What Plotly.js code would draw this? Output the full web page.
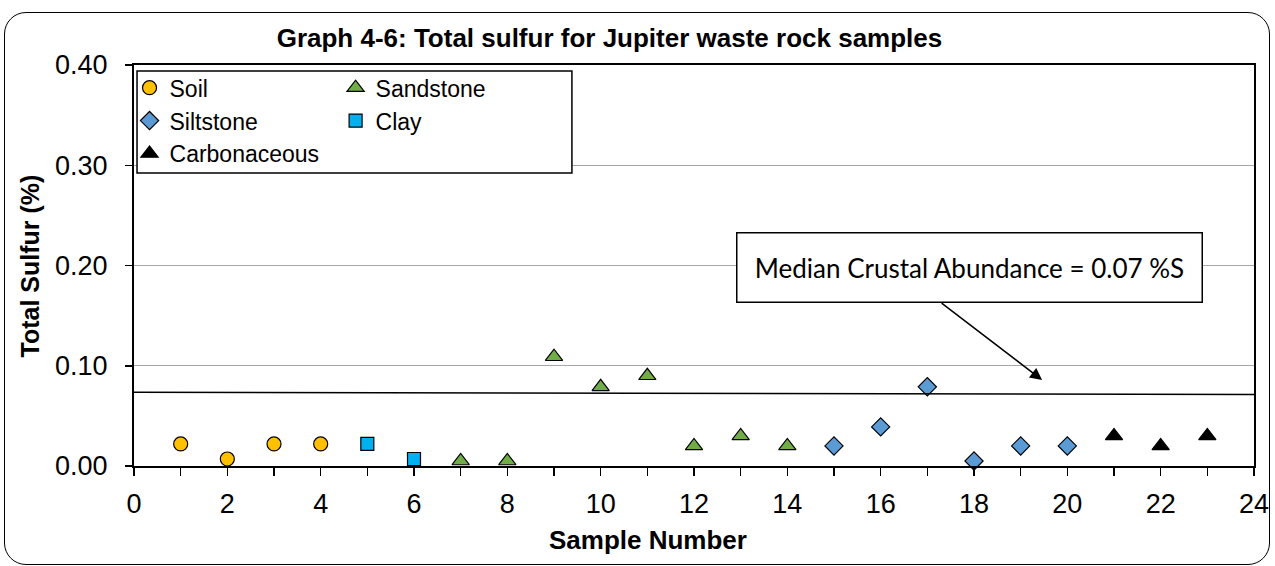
<!DOCTYPE html>
<html>
<head>
<meta charset="utf-8">
<script src="https://cdn.plot.ly/plotly-3.0.1.min.js"></script>
<style>
  body { margin: 0; background: #fff; }
  #chart { width: 1275px; height: 566px; }
  #frame {
    position: absolute; left: 4px; top: 12px; width: 1264px; height: 551px;
    border: 1.5px solid #000; border-radius: 22px; pointer-events: none;
  }
</style>
</head>
<body>
<div id="chart"></div>
<div id="frame"></div>
<script>
// sample numbers and total sulfur (%) per rock type
const soilX = [1, 2, 3, 4];
const soilY = [0.022, 0.007, 0.022, 0.022];
const sandstoneX = [7, 8, 9, 10, 11, 12, 13, 14];
const sandstoneY = [0.005, 0.005, 0.109, 0.079, 0.090, 0.020, 0.030, 0.020];
const siltstoneX = [15, 16, 17, 18, 19, 20];
const siltstoneY = [0.020, 0.039, 0.079, 0.005, 0.020, 0.020];
const clayX = [5, 6];
const clayY = [0.022, 0.007];
const carbX = [21, 22, 23];
const carbY = [0.030, 0.020, 0.030];

// median crustal abundance reference line (as drawn, slightly tilted)
const medianX = [0, 24];
const medianY = [0.0735, 0.0713];

const yTicks = [0, 0.1, 0.2, 0.3, 0.4];

const font = "Arial, 'Liberation Sans', sans-serif";

const series = (name, x, y, symbol, color, size, legend) => ({
  type: "scatter",
  mode: "markers",
  name: name,
  x: x,
  y: y,
  legend: legend,
  legendgroup: name,
  marker: {symbol: symbol, color: color, size: size, line: {color: "#000", width: 1.2}},
  cliponaxis: false
});

const data = [
  series("Soil", soilX, soilY, "circle", "#FFC000", 14, "legend"),
  series("Siltstone", siltstoneX, siltstoneY, "diamond", "#5B9BD5", 14, "legend"),
  series("Carbonaceous", carbX, carbY, "triangle-up", "#000000", 15, "legend"),
  series("Sandstone", sandstoneX, sandstoneY, "triangle-up", "#70AD47", 15, "legend2"),
  series("Clay", clayX, clayY, "square", "#00B0F0", 13, "legend2")
];

const legendStyle = (x) => ({
  x: x, y: 0.997, xanchor: "left", yanchor: "top",
  bgcolor: "rgba(0,0,0,0)", borderwidth: 0,
  font: {family: font, size: 23, color: "#000"},
  tracegroupgap: 0, itemwidth: 30
});

const layout = {
  width: 1275,
  height: 566,
  paper_bgcolor: "rgba(0,0,0,0)",
  plot_bgcolor: "#fff",
  margin: {l: 134, r: 21, t: 65, b: 100},
  title: {
    text: "<b>Graph 4-6: Total sulfur for Jupiter waste rock samples</b>",
    font: {family: font, size: 26, color: "#000"},
    xref: "container", yref: "container",
    x: 0.478, y: 0.933, xanchor: "center", yanchor: "middle"
  },
  xaxis: {
    range: [0, 24],
    dtick: 2,
    ticks: "outside", ticklen: 8, tickwidth: 1.5, tickcolor: "#000",
    minor: {dtick: 1, ticks: "outside", ticklen: 8, tickwidth: 1.5, tickcolor: "#000"},
    showgrid: false, zeroline: false,
    showline: true, linewidth: 2, linecolor: "#000", mirror: true,
    tickfont: {family: font, size: 27, color: "#000"},
    ticklabelstandoff: 5
  },
  yaxis: {
    range: [0, 0.4],
    tickvals: yTicks,
    tickformat: ".2f",
    ticks: "outside", ticklen: 7, tickwidth: 1.5, tickcolor: "#000",
    showgrid: true, gridcolor: "#A6A6A6", gridwidth: 1.2,
    zeroline: false,
    showline: true, linewidth: 2, linecolor: "#000", mirror: true,
    tickfont: {family: font, size: 27, color: "#000"},
    ticklabelstandoff: 12
  },
  showlegend: true,
  legend: legendStyle(-0.004),
  legend2: legendStyle(0.18),
  shapes: [
    {
      type: "rect", xref: "paper", yref: "paper", layer: "above",
      x0: 0.0027, x1: 0.391, y0: 0.7307, y1: 0.985,
      fillcolor: "#fff", line: {color: "#000", width: 1.5}
    },
    {
      type: "line", xref: "x", yref: "y", layer: "above",
      x0: medianX[0], y0: medianY[0], x1: medianX[1], y1: medianY[1],
      line: {color: "#000", width: 1.5}
    }
  ],
  annotations: [
    {
      text: "<b>Sample Number</b>", xref: "paper", yref: "paper",
      x: 0.459, y: -0.1845, xanchor: "center", yanchor: "middle",
      showarrow: false, font: {family: font, size: 26, color: "#000"}
    },
    {
      text: "<b>Total Sulfur (%)</b>", xref: "paper", yref: "paper",
      x: -0.0929, y: 0.5, xanchor: "center", yanchor: "middle", textangle: -90,
      showarrow: false, font: {family: font, size: 25, color: "#000"}
    },
    {
      text: "Median Crustal Abundance = 0.07 %S", xref: "x", yref: "y",
      x: 17.91, y: 0.1985, xanchor: "center", yanchor: "middle",
      width: 462, height: 66, showarrow: false,
      bgcolor: "#fff", bordercolor: "#000", borderwidth: 1.5,
      font: {family: "Lato, 'Open Sans', sans-serif", size: 26, color: "#000"}
    },
    {
      text: "", xref: "x", yref: "y", x: 19.46, y: 0.0858,
      axref: "pixel", ayref: "pixel", ax: -102, ay: -78,
      showarrow: true, arrowhead: 2, arrowsize: 1.6, arrowwidth: 1.5, arrowcolor: "#000"
    }
  ]
};

Plotly.newPlot("chart", data, layout, {displayModeBar: false, staticPlot: true});
</script>
</body>
</html>
